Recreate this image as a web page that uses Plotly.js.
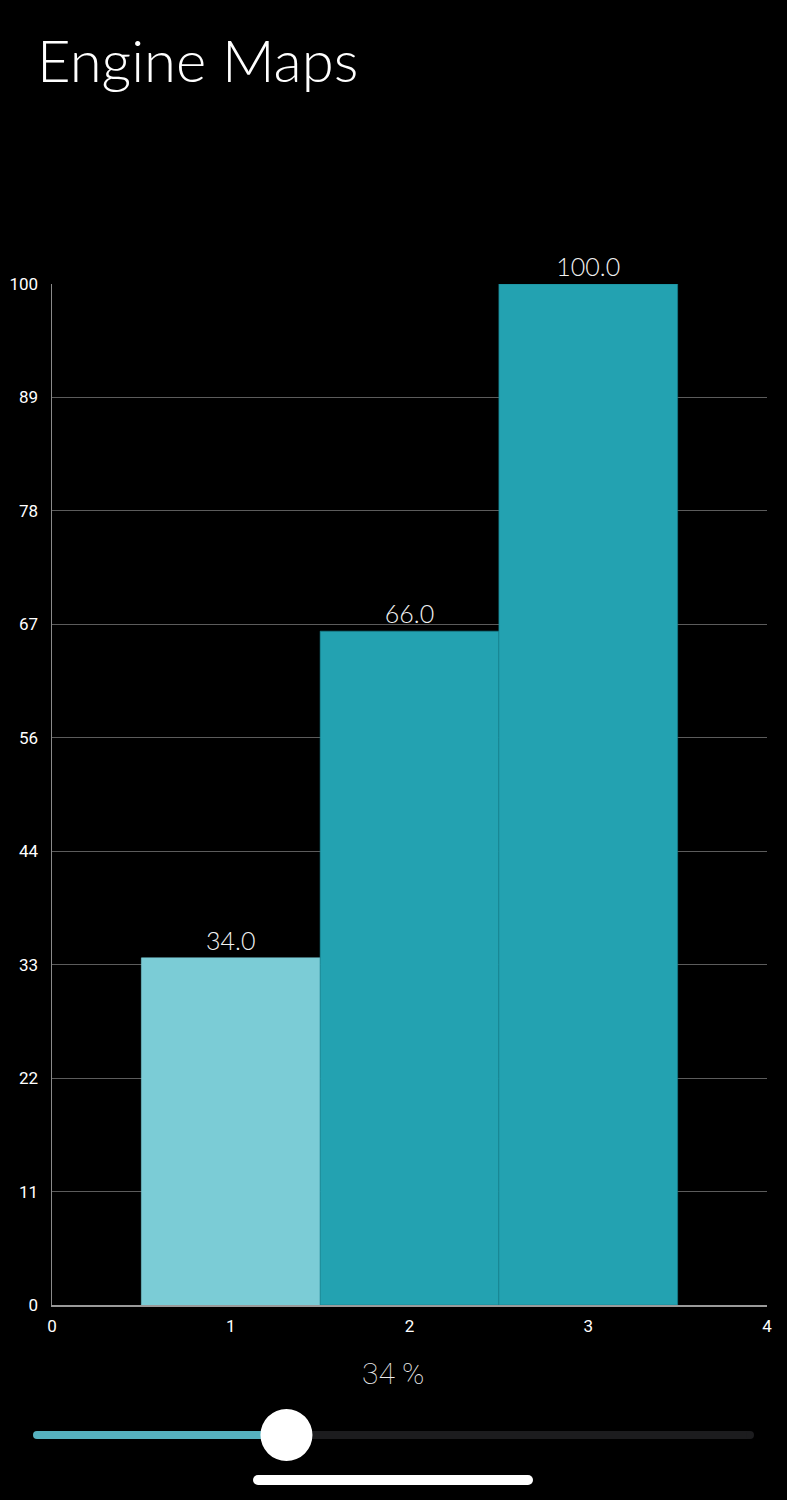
<!DOCTYPE html>
<html>
<head>
<meta charset="utf-8">
<script src="https://cdn.plot.ly/plotly-3.0.1.min.js"></script>
<style>
html,body{margin:0;padding:0;background:#000;}
#chart{width:787px;height:1500px;}
</style>
</head>
<body>
<div id="chart"></div>
<script>
// ---- data ----
const categories = [1, 2, 3];
const values = [34, 66, 100];
const barColors = ['#7BCCD6', '#23A2B1', '#23A2B1'];
const barEdgeColors = ['#7BCCD6', '#16828F', '#16828F'];
const yTickLabels = ['0', '11', '22', '33', '44', '56', '67', '78', '89', '100'];
const xTickValues = [0, 1, 2, 3, 4];
const sliderValue = 34;
const chartTitle = 'Engine Maps';

// ---- layout helpers ----
const W = 787, H = 1500;
const mL = 52, mR = 20, mT = 284, mB = 195;
const pw = W - mL - mR, ph = H - mT - mB;
const px2x = p => (p - mL) / pw;
const py2y = p => (H - mB - p) / ph;

const yTickVals = yTickLabels.map((_, i) => i * 100 / (yTickLabels.length - 1));

const trace = {
  type: 'bar',
  x: categories,
  y: values,
  width: 1,
  marker: {color: barColors, line: {color: barEdgeColors, width: 0.6}},
  texttemplate: '%{y:.1f}',
  textposition: 'outside',
  cliponaxis: false,
  textfont: {family: 'Lato', size: 25, color: '#f2f2f2', weight: 300},
  hoverinfo: 'skip'
};

// slider geometry
const trackL = 33, trackR = 754, trackY = 1435, knobR = 26;
const knobX = trackL + knobR + (sliderValue / 100) * (trackR - trackL - 2 * knobR);

const shapes = [
  {type: 'line', xref: 'paper', yref: 'paper', x0: px2x(trackL + 4), x1: px2x(trackR - 4), y0: py2y(trackY), y1: py2y(trackY),
   line: {color: '#1c1c1e', width: 8}, layer: 'above'},
  {type: 'line', xref: 'paper', yref: 'paper', x0: px2x(trackL + 4), x1: px2x(knobX), y0: py2y(trackY), y1: py2y(trackY),
   line: {color: '#56B2BF', width: 8}, layer: 'above'},
  {type: 'circle', xref: 'paper', yref: 'paper', x0: px2x(trackL), x1: px2x(trackL + 8), y0: py2y(trackY - 4), y1: py2y(trackY + 4),
   fillcolor: '#56B2BF', line: {width: 0}, layer: 'above'},
  {type: 'circle', xref: 'paper', yref: 'paper', x0: px2x(trackR - 8), x1: px2x(trackR), y0: py2y(trackY - 4), y1: py2y(trackY + 4),
   fillcolor: '#1c1c1e', line: {width: 0}, layer: 'above'},
  {type: 'circle', xref: 'paper', yref: 'paper', x0: px2x(knobX - knobR), x1: px2x(knobX + knobR), y0: py2y(trackY - knobR), y1: py2y(trackY + knobR),
   fillcolor: '#ffffff', line: {width: 0}, layer: 'above'},
  {type: 'line', xref: 'paper', yref: 'paper', x0: px2x(258), x1: px2x(528), y0: py2y(1480), y1: py2y(1480),
   line: {color: '#ffffff', width: 10}, layer: 'above'},
  {type: 'circle', xref: 'paper', yref: 'paper', x0: px2x(253), x1: px2x(263), y0: py2y(1475), y1: py2y(1485),
   fillcolor: '#ffffff', line: {width: 0}, layer: 'above'},
  {type: 'circle', xref: 'paper', yref: 'paper', x0: px2x(523), x1: px2x(533), y0: py2y(1475), y1: py2y(1485),
   fillcolor: '#ffffff', line: {width: 0}, layer: 'above'}
];

const layout = {
  width: W, height: H,
  paper_bgcolor: '#000', plot_bgcolor: '#000',
  margin: {l: mL, r: mR, t: mT, b: mB},
  showlegend: false,
  title: {
    text: chartTitle, xref: 'container', yref: 'container',
    x: 37 / W, xanchor: 'left', y: 1 - 62 / H, yanchor: 'middle',
    font: {family: 'Lato', size: 58, color: '#ffffff', weight: 300}
  },
  xaxis: {
    range: [0, 4], tickvals: xTickValues, ticktext: xTickValues.map(String),
    showgrid: false, zeroline: false, showline: true, linecolor: '#9a9a9a', linewidth: 1.5,
    ticks: '', ticklabelstandoff: 5, tickfont: {family: 'Roboto', size: 17, color: '#ffffff'}, fixedrange: true
  },
  yaxis: {
    range: [0, 100], tickvals: yTickVals, ticktext: yTickLabels,
    showgrid: true, gridcolor: '#5c5c5c', gridwidth: 1, zeroline: false,
    showline: true, linecolor: '#8a8a8a', linewidth: 1.5,
    ticks: '', ticklabelstandoff: 9, tickfont: {family: 'Roboto', size: 17, color: '#ffffff'}, fixedrange: true
  },
  bargap: 0,
  shapes: shapes,
  annotations: [
    {text: sliderValue + ' %', xref: 'paper', yref: 'paper', x: px2x(393), y: py2y(1373),
     xanchor: 'center', yanchor: 'middle', showarrow: false,
     font: {family: 'Roboto', size: 30, color: '#ededed', weight: 100}}
  ]
};

Plotly.newPlot('chart', [trace], layout, {displayModeBar: false, staticPlot: true});
</script>
</body>
</html>
